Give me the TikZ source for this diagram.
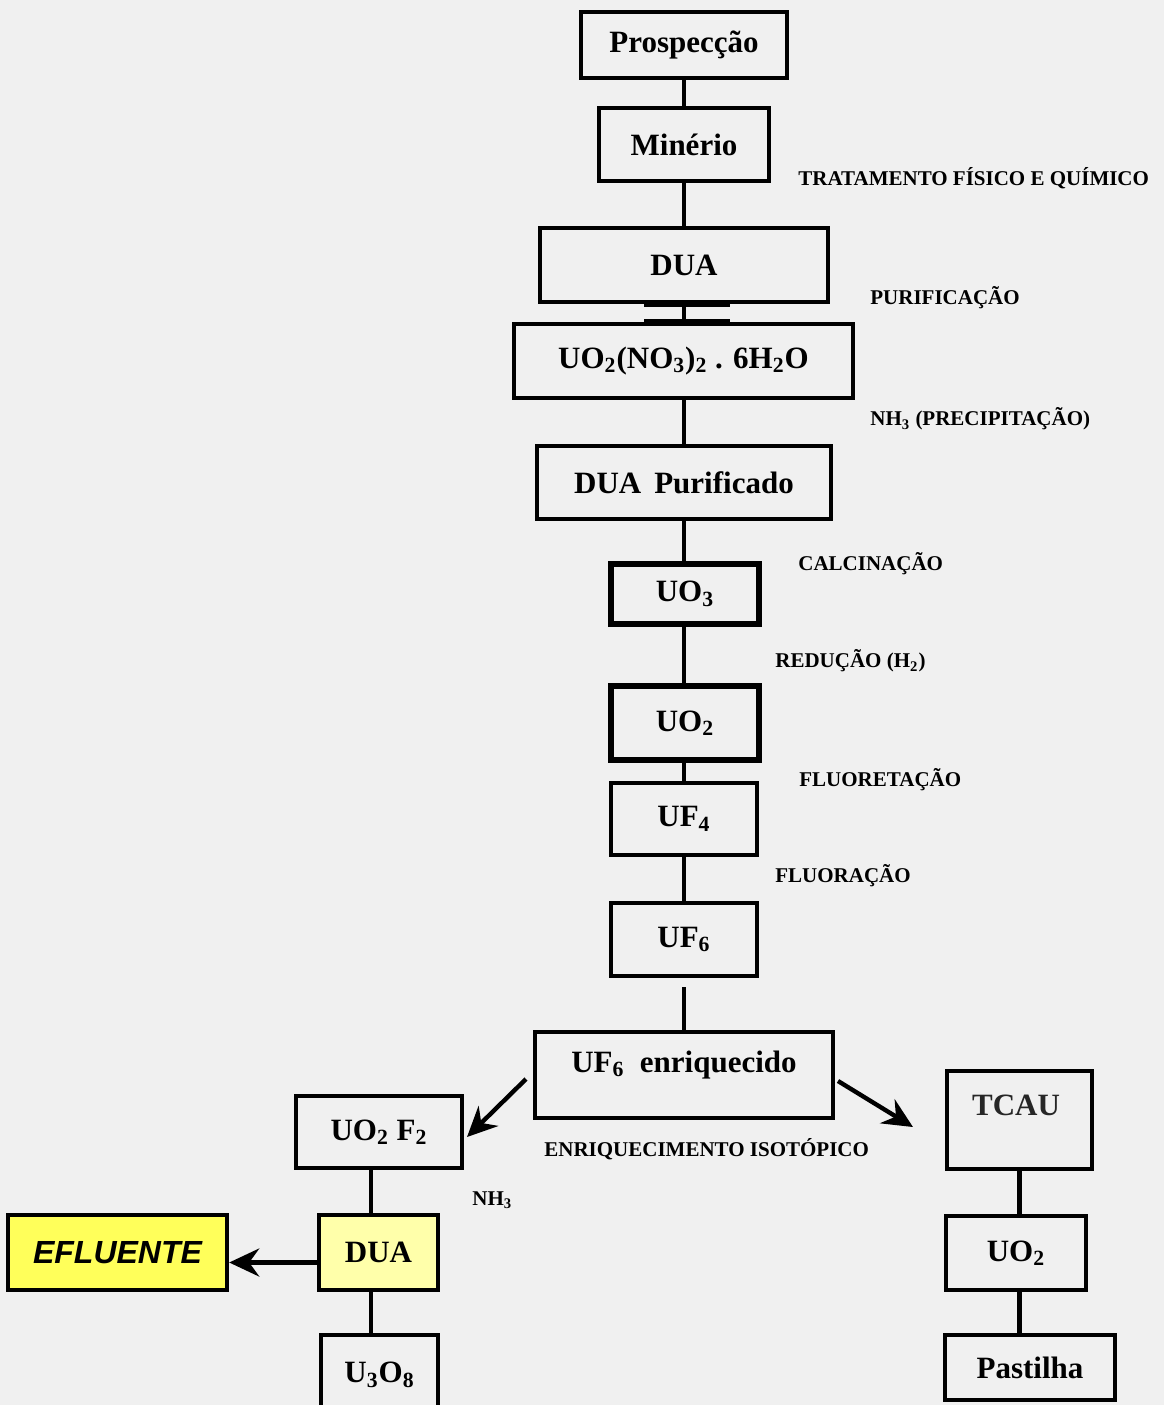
\documentclass[tikz,border=0pt]{standalone}
\usepackage{fontspec}
\setmainfont{Liberation Serif}
\newfontfamily\efsans{Liberation Sans}
\usetikzlibrary{arrows.meta}
\definecolor{bg}{RGB}{240,240,240}
\definecolor{ylw}{RGB}{255,255,90}
\definecolor{pylw}{RGB}{255,255,170}
\newcommand\sbx[1]{\textsubscript{#1}}
\begin{document}
\begin{tikzpicture}[x=0.5pt,y=-0.5pt,
  box/.style={draw=black,line width=2.2pt,rectangle,inner sep=0pt,
    font=\fontsize{15.5}{18}\selectfont\bfseries,align=center},
  thickbox/.style={box,line width=3pt},
  lbl/.style={anchor=west,inner sep=0pt,font=\fontsize{10.5}{12}\selectfont\bfseries},
  conn/.style={line width=2.2pt},
  arr/.style={line width=2.2pt,-{Stealth[length=15pt,width=14pt,inset=5pt]}}]
\useasboundingbox[fill=bg] (0,0) rectangle (1164,1405);
% main spine boxes
\node[box,minimum width=103pt,minimum height=33pt] (pros) at (684,45) {Prospecção};
\node[box,minimum width=85pt,minimum height=36.5pt] (min) at (684,144.5) {Minério};
\node[box,minimum width=144pt,minimum height=37pt] (dua1) at (684,265) {DUA};
\node[box,minimum width=169.5pt,minimum height=37pt] (uon) at (683.5,361) {UO\sbx{2}(NO\sbx{3})\sbx{2} . 6H\sbx{2}O};
\node[box,minimum width=147pt,minimum height=36.5pt] (duap) at (684,482.5) {DUA\, Purificado};
\node[thickbox,minimum width=74pt,minimum height=30pt] (uo3) at (685,594) {UO\sbx{3}};
\node[thickbox,minimum width=74pt,minimum height=37pt] (uo2) at (685,723) {UO\sbx{2}};
\node[box,minimum width=73pt,minimum height=36pt] (uf4) at (684,819) {UF\sbx{4}};
\node[box,minimum width=73pt,minimum height=36.5pt] (uf6) at (684,939.5) {UF\sbx{6}};
\node[box,minimum width=149pt,minimum height=43pt] (uf6e) at (684,1075) {};
\node[inner sep=0pt,font=\fontsize{15.5}{18}\selectfont\bfseries] (uf6et) at (684,1065) {UF\sbx{6}\ \ enriquecido};
% left branch
\node[box,minimum width=83pt,minimum height=36pt] (uof2) at (379,1132) {UO\sbx{2} F\sbx{2}};
\node[box,fill=pylw,minimum width=59.5pt,minimum height=37.5pt] (duay) at (378.5,1252.5) {DUA};
\node[box,fill=ylw,minimum width=109.5pt,minimum height=37.5pt,font=\fontsize{16}{18}\selectfont\efsans\bfseries\itshape] (efl) at (117.5,1252.5) {EFLUENTE};
\node[box,minimum width=58.5pt,minimum height=40pt] (u3o8) at (379.5,1375) {U\sbx{3}O\sbx{8}};
% right branch
\node[box,minimum width=72.5pt,minimum height=49pt] (tcau) at (1019.5,1120) {};
\node[inner sep=0pt,font=\fontsize{15.5}{18}\selectfont\bfseries,text=black!85] (tcaut) at (1016,1105) {TCAU};
\node[box,minimum width=70pt,minimum height=37pt] (uo2r) at (1016,1253) {UO\sbx{2}};
\node[box,minimum width=85pt,minimum height=32.5pt] (past) at (1030,1367.5) {Pastilha};
% connectors main spine
\draw[conn] (pros.south) -- (min.north);
\draw[conn] (min.south) -- (dua1.north);
\draw[conn] (dua1.south) -- (uon.north -| dua1.south);
\draw[line width=2.6pt] ([xshift=-20pt]dua1.south) -- ([xshift=23pt]dua1.south);
\draw[line width=2.6pt] ([xshift=-20pt]dua1.south |- uon.north) -- ([xshift=23pt]dua1.south |- uon.north);
\draw[conn] (uon.south -| duap.north) -- (duap.north);
\draw[conn] (duap.south) -- (duap.south |- uo3.north);
\draw[conn] (uo3.south -| duap.south) -- (duap.south |- uo2.north);
\draw[conn] (uo2.south -| duap.south) -- (uf4.north);
\draw[conn] (uf4.south) -- (uf6.north);
\draw[conn] ([yshift=-4.5pt]uf6.south) -- (uf6e.north);
% branch arrows
\coordinate (a1s) at (526,1079);
\coordinate (a1e) at (467,1137);
\coordinate (a2s) at (838,1081);
\coordinate (a2e) at (913,1127);
\draw[arr] (a1s) -- (a1e);
\draw[arr] (a2s) -- (a2e);
\draw[arr] ([yshift=-5pt]duay.west) -- ([yshift=-5pt]efl.east);
% left vertical connectors
\draw[conn] ([xshift=-4pt]uof2.south) -- ([xshift=-4pt]uof2.south |- duay.north);
\draw[conn] ([xshift=-4pt]uof2.south |- duay.south) -- ([xshift=-4pt]uof2.south |- u3o8.north);
% right vertical connectors
\draw[conn] (tcau.south) -- (tcau.south |- uo2r.north);
\draw[conn] (tcau.south |- uo2r.south) -- (tcau.south |- past.north);
% process labels
\node[lbl] (l1) at (798,178) {TRATAMENTO FÍSICO E QUÍMICO};
\node[lbl] (l2) at (870,298) {PURIFICAÇÃO};
\node[lbl] (l3) at (870,419) {NH\sbx{3} (PRECIPITAÇÃO)};
\node[lbl] (l4) at (798,564) {CALCINAÇÃO};
\node[lbl] (l5) at (775,661) {REDUÇÃO (H\sbx{2})};
\node[lbl] (l6) at (799,780) {FLUORETAÇÃO};
\node[lbl] (l7) at (775,876) {FLUORAÇÃO};
\node[lbl] (l8) at (544,1149) {ENRIQUECIMENTO ISOTÓPICO};
\node[lbl] (l9) at (472,1200) {NH\sbx{3}};
\end{tikzpicture}
\end{document}
